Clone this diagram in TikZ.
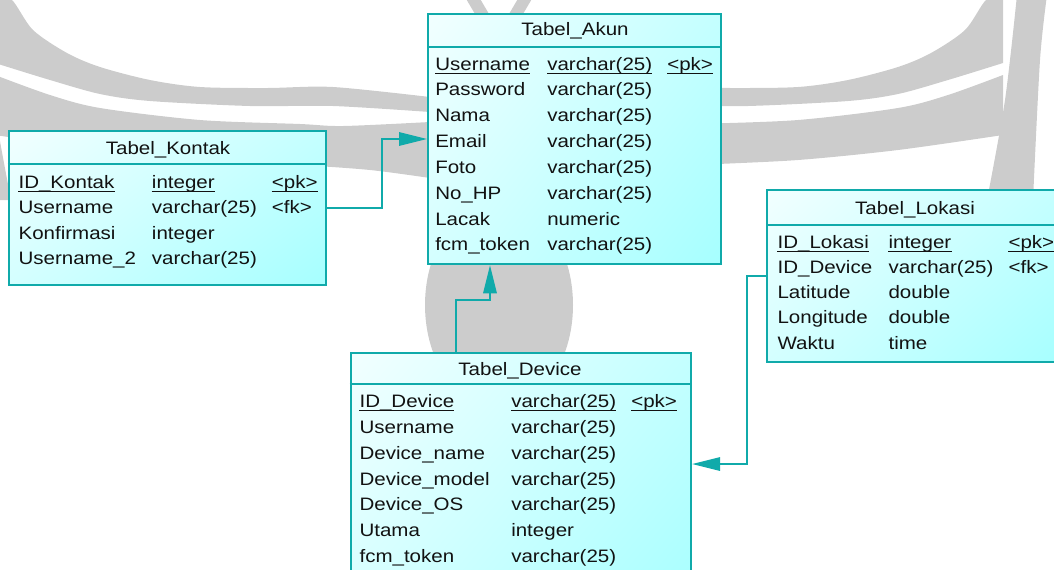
\documentclass[tikz,border=0pt]{standalone}
\usepackage{fontspec}
\setmainfont{Liberation Sans}[FakeStretch=1.14]
\usetikzlibrary{arrows.meta,shadings}

\definecolor{tealline}{HTML}{10AAAA}
\definecolor{wm}{HTML}{CCCCCC}
\definecolor{cyanA}{HTML}{F2FFFF}
\definecolor{cyanB}{HTML}{C4FFFF}
\definecolor{cyanC}{HTML}{D4FFFF}
\definecolor{cyanD}{HTML}{A6FFFF}

\tikzset{
  tablebox/.style={rectangle, draw=tealline, line width=1.5pt, inner sep=0pt, anchor=north west,
    upper left=cyanA, upper right=cyanB, lower left=cyanC, lower right=cyanD},
  sepline/.style={draw=tealline, line width=1.5pt},
  cell/.style={inner sep=0pt, anchor=base west, font=\fontsize{13.5pt}{16pt}\selectfont, text=black!93},
  title/.style={inner sep=0pt, anchor=base, font=\fontsize{13.5pt}{16pt}\selectfont, text=black!93},
  keyline/.style={draw=black!93, line width=0.75pt},
  link/.style={draw=tealline, line width=1.5pt},
  linkarrow/.style={link, -{Triangle[length=21pt,width=10pt]}},
  emblem/.style={fill=wm},
}

% underlined primary-key cell
\newcommand{\pkcell}[3]{%
  \node[cell] (#1) at #2 {#3};
  \draw[keyline] ([yshift=-2.3pt]#1.base west) -- ([yshift=-2.3pt]#1.base east);
}

% one half of the emblem; the other half is its mirror image about x = 499
\newcommand{\emblemhalf}{%
  \fill[emblem] plot[smooth] coordinates {(-5,-5) (12,0) (33,30) (67,53) (100,67) (150,80) (200,87) (267,88) (333,87) (430,97)}
    -- plot[smooth] coordinates {(430,112) (333,106) (250,106) (150,101) (100,94) (50,80) (-5,63)} -- cycle;
  \fill[emblem] plot[smooth] coordinates {(-5,75) (50,95) (100,108) (200,120) (300,124) (343,126) (430,122)}
    -- plot[smooth] coordinates {(430,178) (370,170) (300,165) (200,160) (100,150) (-5,135)} -- cycle;
  \fill[emblem] plot[smooth] coordinates {(-49,-5) (-42,60) (-35,200)}
    -- plot[smooth] coordinates {(11,200) (-7,100) (-19,-5)} -- cycle;
  \fill[emblem] (465,-3) -- (479,-3) -- (489,14) -- (475,14) -- cycle;
}

\begin{document}
\begin{tikzpicture}[x=0.75pt,y=-0.75pt]
\useasboundingbox (0,0) rectangle (1054,569);
\clip (0,0) rectangle (1054,569);

% faint emblem in the background
\emblemhalf
\begin{scope}[xshift=998*0.75pt, xscale=-1]
  \emblemhalf
\end{scope}
\fill[emblem] (499,305) ellipse [x radius=74, y radius=104];

% tables
\node[tablebox, minimum width=219.4pt, minimum height=187.7pt] (akun) at (427,13) {};
\node[tablebox, minimum width=238.1pt, minimum height=115.5pt] (kontak) at (7.5,129.5) {};
\node[tablebox, minimum width=220.5pt, minimum height=129pt] (lokasi) at (766,189) {};
\node[tablebox, minimum width=255.4pt, minimum height=200pt] (device) at (349.5,351.7) {};

\draw[sepline] (akun.west |- 0,47) -- (akun.east |- 0,47);
\draw[sepline] (kontak.west |- 0,164) -- (kontak.east |- 0,164);
\draw[sepline] (lokasi.west |- 0,224.5) -- (lokasi.east |- 0,224.5);
\draw[sepline] (device.west |- 0,383.5) -- (device.east |- 0,383.5);

% Tabel_Akun
\node[title] (akunT) at (575,35.7) {Tabel\_Akun};
\pkcell{a1n}{(435,70)}{Username}
\pkcell{a1t}{(547,70)}{varchar(25)}
\pkcell{a1k}{(667,70)}{\textless pk\textgreater}
\node[cell] (a2n) at (435,95.8) {Password};   \node[cell] (a2t) at (547,95.8) {varchar(25)};
\node[cell] (a3n) at (435,121.7) {Nama};      \node[cell] (a3t) at (547,121.7) {varchar(25)};
\node[cell] (a4n) at (435,147.5) {Email};     \node[cell] (a4t) at (547,147.5) {varchar(25)};
\node[cell] (a5n) at (435,173.3) {Foto};      \node[cell] (a5t) at (547,173.3) {varchar(25)};
\node[cell] (a6n) at (435,199.2) {No\_HP};    \node[cell] (a6t) at (547,199.2) {varchar(25)};
\node[cell] (a7n) at (435,225) {Lacak};       \node[cell] (a7t) at (547,225) {numeric};
\node[cell] (a8n) at (435,250.8) {fcm\_token};\node[cell] (a8t) at (547,250.8) {varchar(25)};

% Tabel_Kontak
\node[title] (kontakT) at (168,154.3) {Tabel\_Kontak};
\pkcell{k1n}{(18.3,188.3)}{ID\_Kontak}
\pkcell{k1t}{(151.7,188.3)}{integer}
\pkcell{k1k}{(271.7,188.3)}{\textless pk\textgreater}
\node[cell] (k2n) at (18.3,213.7) {Username};   \node[cell] (k2t) at (151.7,213.7) {varchar(25)};
\node[cell] (k2k) at (271.7,213.7) {\textless fk\textgreater};
\node[cell] (k3n) at (18.3,239.1) {Konfirmasi}; \node[cell] (k3t) at (151.7,239.1) {integer};
\node[cell] (k4n) at (18.3,264.5) {Username\_2};\node[cell] (k4t) at (151.7,264.5) {varchar(25)};

% Tabel_Lokasi
\node[title] (lokasiT) at (915,214.3) {Tabel\_Lokasi};
\pkcell{l1n}{(777.3,248.3)}{ID\_Lokasi}
\pkcell{l1t}{(888.3,248.3)}{integer}
\pkcell{l1k}{(1008.3,248.3)}{\textless pk\textgreater}
\node[cell] (l2n) at (777.3,273.5) {ID\_Device}; \node[cell] (l2t) at (888.3,273.5) {varchar(25)};
\node[cell] (l2k) at (1008.3,273.5) {\textless fk\textgreater};
\node[cell] (l3n) at (777.3,298.7) {Latitude};   \node[cell] (l3t) at (888.3,298.7) {double};
\node[cell] (l4n) at (777.3,323.9) {Longitude};  \node[cell] (l4t) at (888.3,323.9) {double};
\node[cell] (l5n) at (777.3,349.1) {Waktu};      \node[cell] (l5t) at (888.3,349.1) {time};

% Tabel_Device
\node[title] (deviceT) at (520,375) {Tabel\_Device};
\pkcell{d1n}{(359.3,407.7)}{ID\_Device}
\pkcell{d1t}{(511,407.7)}{varchar(25)}
\pkcell{d1k}{(631,407.7)}{\textless pk\textgreater}
\node[cell] (d2n) at (359.3,433.5) {Username};     \node[cell] (d2t) at (511,433.5) {varchar(25)};
\node[cell] (d3n) at (359.3,459.3) {Device\_name};  \node[cell] (d3t) at (511,459.3) {varchar(25)};
\node[cell] (d4n) at (359.3,485.1) {Device\_model}; \node[cell] (d4t) at (511,485.1) {varchar(25)};
\node[cell] (d5n) at (359.3,510.9) {Device\_OS};    \node[cell] (d5t) at (511,510.9) {varchar(25)};
\node[cell] (d6n) at (359.3,536.7) {Utama};        \node[cell] (d6t) at (511,536.7) {integer};
\node[cell] (d7n) at (359.3,562.5) {fcm\_token};    \node[cell] (d7t) at (511,562.5) {varchar(25)};

% references
\coordinate (kbend) at (382,208);
\draw[linkarrow] (kontak.east |- kbend) -- (kbend) |- (akun.west |- 0,139);
\coordinate (dbend) at (456,300);
\draw[linkarrow] (device.north -| dbend) -- (dbend) -| (akun.south -| 490,0);
\coordinate (lbend) at (747,276);
\draw[linkarrow] (lokasi.west |- lbend) -- (lbend) |- (device.east |- 0,464);
\end{tikzpicture}
\end{document}
